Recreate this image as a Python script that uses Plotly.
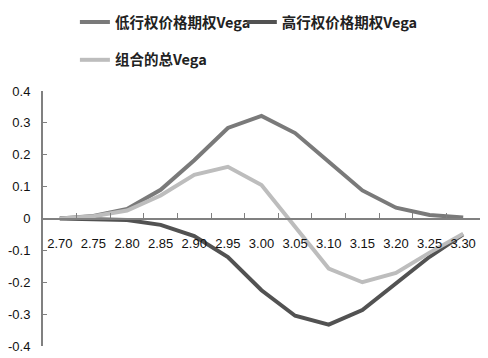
import plotly.graph_objects as go

strikes = ["2.70", "2.75", "2.80", "2.85", "2.90", "2.95", "3.00",
           "3.05", "3.10", "3.15", "3.20", "3.25", "3.30"]
low_vega = [0.0, 0.008, 0.03, 0.09, 0.183, 0.284, 0.322,
            0.268, 0.178, 0.088, 0.034, 0.011, 0.003]
high_vega = [0.0, -0.001, -0.005, -0.02, -0.055, -0.121, -0.225,
             -0.305, -0.333, -0.287, -0.205, -0.12, -0.05]
total_vega = [0.0, 0.007, 0.025, 0.072, 0.137, 0.162, 0.105,
              -0.028, -0.157, -0.2, -0.171, -0.107, -0.048]
y_tick_vals = [0.4, 0.3, 0.2, 0.1, 0, -0.1, -0.2, -0.3, -0.4]
y_tick_text = ["0.4", "0.3", "0.2", "0.1", "0", "-0.1", "-0.2", "-0.3", "-0.4"]

names = ["低行权价格期权Vega", "高行权价格期权Vega", "组合的总Vega"]

fig = go.Figure()
fig.add_trace(go.Scatter(x=strikes, y=low_vega, mode="lines", name=names[0],
                         line=dict(color="#7a7a7a", width=4), legend="legend"))
fig.add_trace(go.Scatter(x=strikes, y=high_vega, mode="lines", name=names[1],
                         line=dict(color="#525252", width=4), legend="legend2"))
fig.add_trace(go.Scatter(x=strikes, y=total_vega, mode="lines", name=names[2],
                         line=dict(color="#bdbdbd", width=4), legend="legend3"))

legend_font = dict(family="Noto Sans CJK SC", size=14.5, color="#222222", weight="bold")
tick_font = dict(family="Liberation Sans, Arial, sans-serif", size=13, color="#111111")

def legend_at(x, y):
    return dict(orientation="h", x=x, xanchor="left", y=y, yanchor="middle",
                font=legend_font, bgcolor="rgba(0,0,0,0)", itemwidth=30)

fig.update_layout(
    width=488, height=358,
    margin=dict(l=43, r=8, t=91, b=12, autoexpand=False),
    paper_bgcolor="white", plot_bgcolor="white",
    showlegend=True,
    legend=legend_at(0.073, 1.27),
    legend2=legend_at(0.455, 1.27),
    legend3=legend_at(0.073, 1.122),
    xaxis=dict(
        type="category", range=[-0.5, 12.5],
        anchor="free", position=0.5, automargin=False,
        showline=True, linecolor="#808080", linewidth=2,
        ticks="inside", tickson="boundaries", ticklen=5, tickcolor="#808080", tickwidth=1,
        showgrid=False, zeroline=False, tickangle=0,
        tickfont=tick_font,
        ticklabelstandoff=13,
    ),
    yaxis=dict(
        range=[-0.4, 0.4], domain=[0, 1], automargin=False,
        tickvals=y_tick_vals, ticktext=y_tick_text,
        showline=True, linecolor="#808080", linewidth=2,
        ticks="inside", ticklen=4, tickcolor="#808080", tickwidth=1,
        showgrid=False, zeroline=False,
        tickfont=tick_font,
        ticklabelstandoff=8,
    ),
)

fig.write_html("out.html",
               config={"displayModeBar": False},
               post_script="document.body.style.margin='0';document.body.style.overflow='hidden';")
